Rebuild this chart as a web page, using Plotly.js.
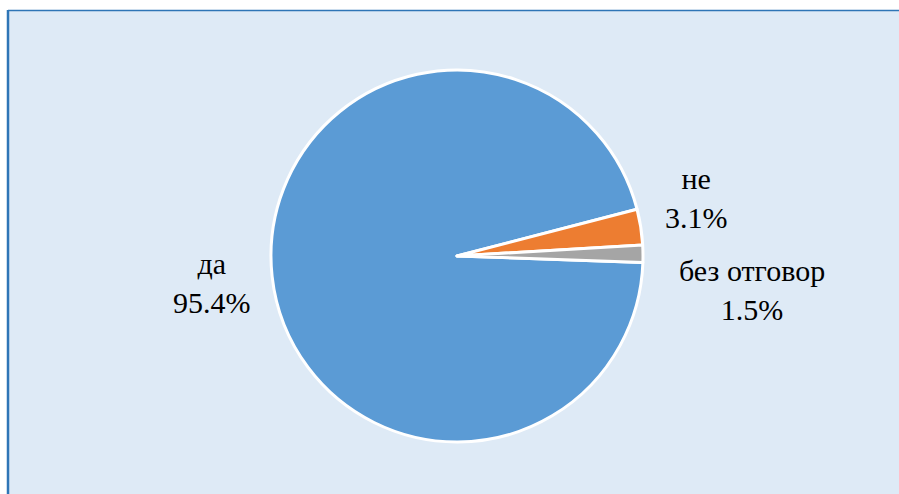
<!DOCTYPE html>
<html>
<head>
<meta charset="utf-8">
<script src="https://cdn.plot.ly/plotly-3.0.1.min.js"></script>
<style>html,body{margin:0;padding:0;background:#fff;}#chart{width:899px;height:494px;}</style>
</head>
<body>
<div id="chart"></div>
<script>
const categories = ["да", "не", "без отговор"];
const values = [95.4, 3.1, 1.5];
const colors = ["#5B9BD5", "#ED7D31", "#A5A5A5"];
const labelPos = [[212, 283], [696, 198], [752, 290]]; // pixel centres of label blocks

const W = 899, H = 494;
const annotations = categories.map((c, i) => ({
  xref: "paper", yref: "paper",
  x: labelPos[i][0] / W, y: 1 - labelPos[i][1] / H,
  xanchor: "center", yanchor: "middle",
  text: c + "<br>" + values[i].toFixed(1) + "%",
  showarrow: false, align: "center",
  font: {family: "Liberation Serif", size: 30, color: "#000"}
}));

const data = [{
  type: "pie",
  labels: categories,
  values: values,
  marker: {colors: colors, line: {color: "#FFFFFF", width: 3}},
  sort: false,
  direction: "clockwise",
  rotation: 92,
  textinfo: "none",
  hoverinfo: "label+percent",
  domain: {x: [271 / W, 643 / W], y: [52 / H, 424 / H]},
  showlegend: false
}];

const layout = {
  width: W, height: H,
  margin: {l: 0, r: 0, t: 0, b: 0},
  paper_bgcolor: "#FFFFFF",
  font: {family: "Liberation Serif"},
  showlegend: false,
  shapes: [
    {type: "rect", xref: "paper", yref: "paper", x0: 9 / W, x1: 1, y0: 0, y1: 1 - 10.5 / H,
     fillcolor: "#DEEAF6", line: {width: 0}, layer: "below"},
    {type: "line", xref: "paper", yref: "paper", x0: 8 / W, x1: 1, y0: 1 - 10.5 / H, y1: 1 - 10.5 / H,
     line: {color: "#2E75B6", width: 1.5}, layer: "below"},
    {type: "line", xref: "paper", yref: "paper", x0: 8 / W, x1: 8 / W, y0: 0, y1: 1 - 10 / H,
     line: {color: "#2E75B6", width: 2.5}, layer: "below"}
  ],
  annotations: annotations
};

Plotly.newPlot("chart", data, layout, {displayModeBar: false, staticPlot: true});
</script>
</body>
</html>
